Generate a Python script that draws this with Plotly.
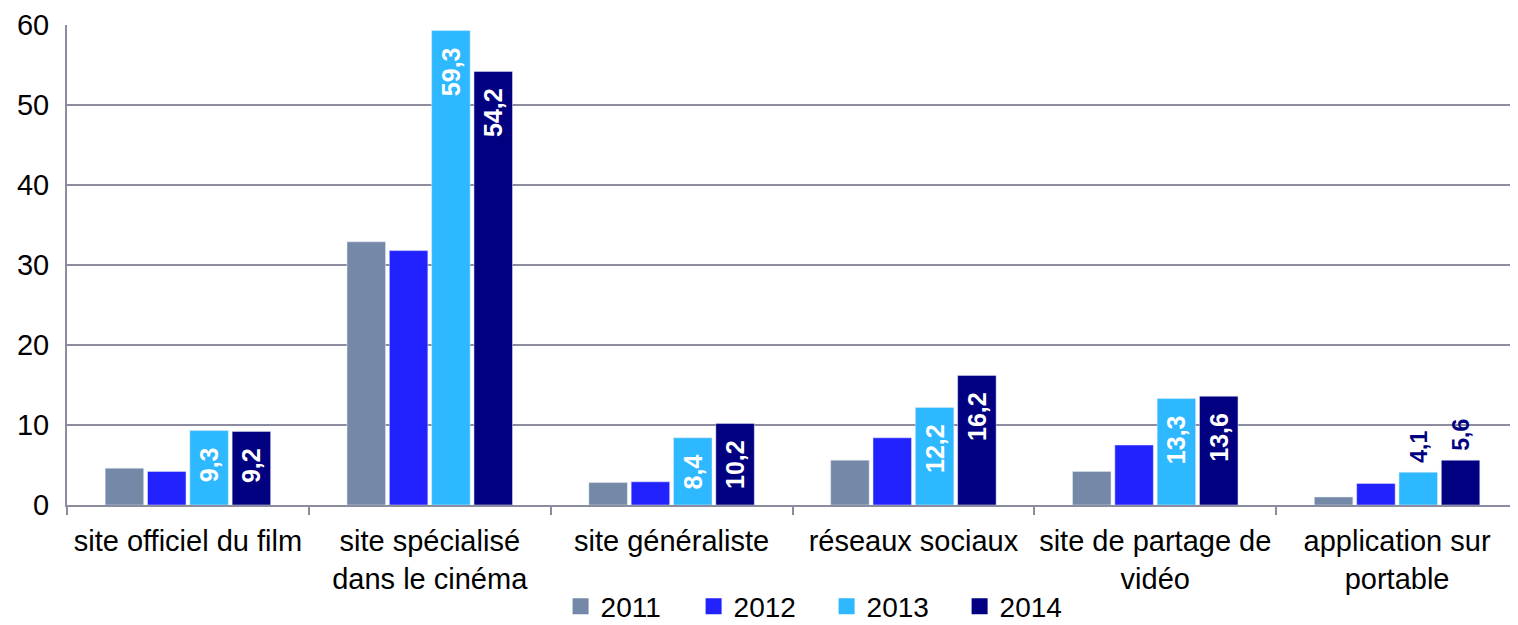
import plotly.graph_objects as go

categories = ["site officiel du film", "site spécialisé<br>dans le cinéma", "site généraliste",
              "réseaux sociaux", "site de partage de<br>vidéo", "application sur<br>portable"]
years = ["2011", "2012", "2013", "2014"]
v2011 = [4.6, 32.9, 2.8, 5.6, 4.2, 1.0]
v2012 = [4.2, 31.8, 2.9, 8.4, 7.5, 2.7]
v2013 = [9.3, 59.3, 8.4, 12.2, 13.3, 4.1]
v2014 = [9.2, 54.2, 10.2, 16.2, 13.6, 5.6]
label_outside = [False, False, False, False, False, True]
y_ticks = [0, 10, 20, 30, 40, 50, 60]

colors = ["#7489A8", "#2222FF", "#2DB8FF", "#000080"]
series = [v2011, v2012, v2013, v2014]
show_labels = [False, False, True, True]

NB = "\u00a0"
FONT = "Liberation Sans, Arial"

def fmt(v):
    return f"{v:.1f}".replace(".", ",")

fig = go.Figure()
for name, vals, col, lab in zip(years, series, colors, show_labels):
    if lab:
        texts = [(NB + fmt(v)) if out else (fmt(v) + NB * 2) for v, out in zip(vals, label_outside)]
        pos = ["outside" if out else "inside" for out in label_outside]
    else:
        texts = None
        pos = "none"
    fig.add_trace(go.Bar(
        name=name, x=categories, y=vals, marker_color=col,
        text=texts, textposition=pos, textangle=-90,
        insidetextanchor="end", cliponaxis=False, showlegend=False,
        insidetextfont=dict(family=FONT, size=25, color="white", weight="bold"),
        outsidetextfont=dict(family=FONT, size=25, color="#000080", weight="bold"),
        hoverinfo="skip",
    ))
# legend entries with square swatches
for name, col in zip(years, colors):
    fig.add_trace(go.Scatter(
        name=name, x=[None], y=[None], mode="markers",
        marker=dict(symbol="square", size=16, color=col), hoverinfo="skip",
    ))

grid = "#8C8CA0"
fig.update_layout(
    width=1510, height=617,
    margin=dict(l=59, r=0, t=17, b=120),
    barmode="group", bargap=0.3, bargroupgap=0.09,
    plot_bgcolor="white", paper_bgcolor="white",
    font=dict(family=FONT, size=29, color="black"),
    showlegend=True,
    legend=dict(orientation="h", x=0.5235, xanchor="center", xref="paper",
                y=0.03, yanchor="middle", yref="container",
                font=dict(size=28), itemwidth=30, entrywidth=88, entrywidthmode="pixels",
                traceorder="normal", tracegroupgap=0),
)
fig.update_xaxes(showline=True, linecolor=grid, linewidth=2, ticks="outside", tickson="boundaries",
                 ticklen=8, tickcolor=grid, tickwidth=1.5, showgrid=False, ticklabelstandoff=9,
                 automargin=False)
fig.update_yaxes(range=[0, 60], tickvals=y_ticks, showgrid=True, gridcolor=grid, gridwidth=1.5,
                 showline=True, linecolor=grid, linewidth=2, ticks="", zeroline=False,
                 tickfont=dict(size=29), ticklabelstandoff=10, automargin=False)

fig.write_html("out.html")
